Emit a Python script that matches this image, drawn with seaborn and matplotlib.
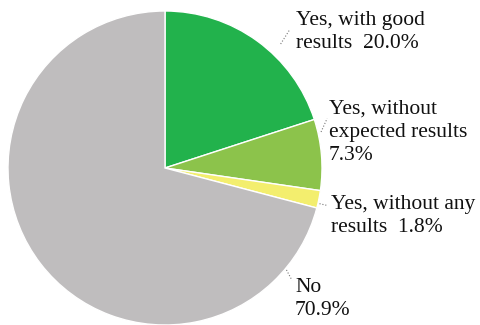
import matplotlib
matplotlib.use("Agg")
import matplotlib.pyplot as plt
import numpy as np
import seaborn as sns

# data (percent)
categories = ["Yes, with good\nresults  20.0%", "Yes, without\nexpected results\n7.3%",
              "Yes, without any\nresults  1.8%", "No\n70.9%"]
shares = [20.0, 7.3, 1.8, 70.9]
colors = ["#22b24c", "#8cc34b", "#f3ee6e", "#bfbdbe"]

# label placement (figure pixels, top-left of each text)
label_xy = [(296, 11), (329, 100), (331, 195), (295, 278)]
# leader lines: (start angle, start radius, end angle, end radius)
leaders = [(47, 1.08, 48, 1.19), (13, 1.02, 17, 1.08),
           (-13, 1.01, -13, 1.06), (-40, 1.01, -41.5, 1.08)]

sns.set_theme(style="white")
plt.rcParams["font.family"] = ["Liberation Serif", "DejaVu Serif"]

W, H = 481, 325
fig = plt.figure(figsize=(W / 100, H / 100), dpi=100)
cx, cy, r = 165, 168, 157
ax = fig.add_axes([(cx - r) / W, (H - cy - r) / H, 2 * r / W, 2 * r / H])

ax.pie(shares, colors=colors, startangle=90, counterclock=False, radius=1,
       wedgeprops=dict(edgecolor="white", linewidth=1.0))
ax.set_xlim(-1, 1)
ax.set_ylim(-1, 1)
ax.set_aspect("equal")
ax.axis("off")

for text, (tx, ty), (a0, r0, a1, r1) in zip(categories, label_xy, leaders):
    fig.text(tx / W, 1 - ty / H, text, ha="left", va="top", fontsize=15.5,
             color="#111111", linespacing=1.27)
    a0, a1 = np.deg2rad(a0), np.deg2rad(a1)
    ax.plot([r0 * np.cos(a0), r1 * np.cos(a1)], [r0 * np.sin(a0), r1 * np.sin(a1)],
            color="#777777", lw=0.8, ls=":", clip_on=False)

fig.savefig("out.png", dpi=100)
